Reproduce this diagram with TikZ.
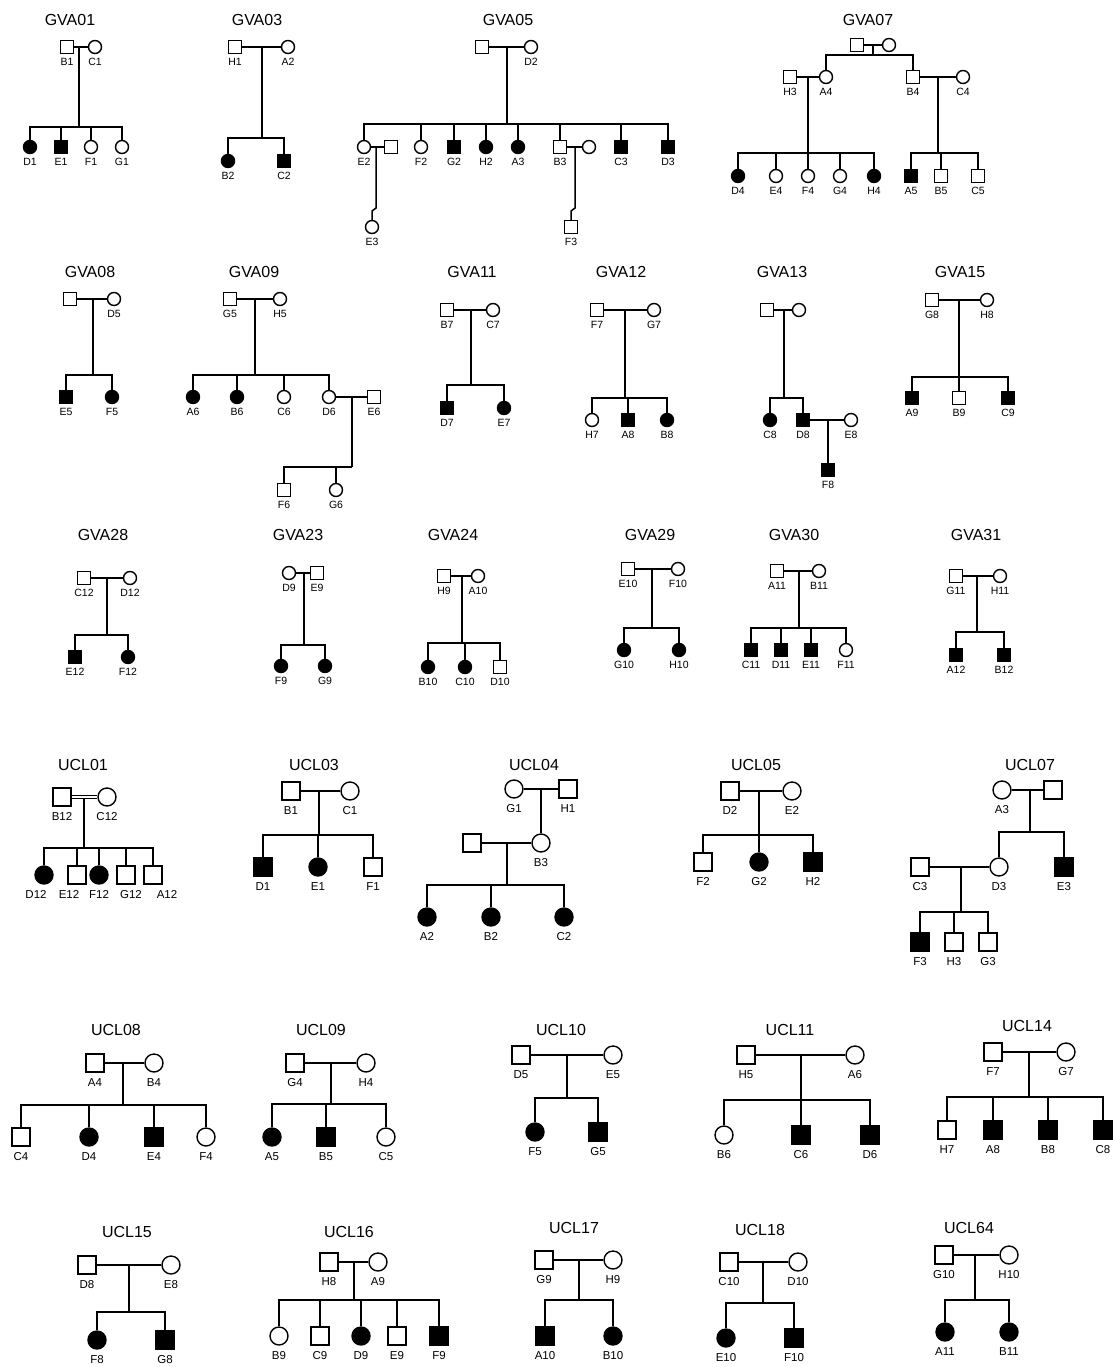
\documentclass[tikz,border=0pt]{standalone}
\usepackage{fontspec}
\setmainfont{Liberation Sans}
\tikzset{
  sym/.style={draw, line width=1.4pt, inner sep=0pt, minimum size=13pt},
  ma/.style={sym, rectangle},
  fe/.style={sym, circle},
  maA/.style={ma, fill=black},
  feA/.style={fe, fill=black},
  every label/.style={font=\fontsize{10.5}{12}\selectfont, inner sep=0pt},
  label distance=4pt,
  ttl/.style={font=\fontsize{16}{19}\selectfont, inner sep=0pt},
  lk/.style={line width=1.5pt},
}
\begin{document}
\begin{tikzpicture}[x=1pt,y=-1pt]
\useasboundingbox (0,0) rectangle (1112,1367);
\fill[white] (0,0) rectangle (1112,1367);

% ---------------- GVA01
\node[ttl] (G01t) at (70,20) {GVA01};
\node[ma,label=below:B1] (G01B1) at (67,47) {};
\node[fe,label=below:C1] (G01C1) at (95,47) {};
\coordinate (G01c) at (79,47); \coordinate (G01s) at (79,127);
\node[feA,label=below:D1] (G01D1) at (30,147) {};
\node[maA,label=below:E1] (G01E1) at (61,147) {};
\node[fe,label=below:F1] (G01F1) at (91,147) {};
\node[fe,label=below:G1] (G01G1) at (122,147) {};
\draw[lk] (G01B1) -- (G01C1) (G01c) -- (G01s);
\foreach \k in {D1,E1,F1,G1} \draw[lk] (G01\k) |- (G01s);

% ---------------- GVA03
\node[ttl] (G03t) at (257,20) {GVA03};
\node[ma,label=below:H1] (G03H1) at (235,47) {};
\node[fe,label=below:A2] (G03A2) at (288,47) {};
\coordinate (G03c) at (262,47); \coordinate (G03s) at (262,138);
\node[feA,label=below:B2] (G03B2) at (228,161) {};
\node[maA,label=below:C2] (G03C2) at (284,161) {};
\draw[lk] (G03H1) -- (G03A2) (G03c) -- (G03s);
\foreach \k in {B2,C2} \draw[lk] (G03\k) |- (G03s);

% ---------------- GVA05
\node[ttl] (G05t) at (508,20) {GVA05};
\node[ma] (G05F) at (482,47) {};
\node[fe,label=below:D2] (G05D2) at (531,47) {};
\coordinate (G05c) at (507,47); \coordinate (G05s) at (507,124);
\node[fe,label=below:E2] (G05E2) at (364,147) {};
\node[ma] (G05E2s) at (391,147) {};
\node[fe,label=below:F2] (G05F2) at (421,147) {};
\node[maA,label=below:G2] (G05G2) at (454,147) {};
\node[feA,label=below:H2] (G05H2) at (486,147) {};
\node[feA,label=below:A3] (G05A3) at (518,147) {};
\node[ma,label=below:B3] (G05B3) at (560,147) {};
\node[fe] (G05B3s) at (589,147) {};
\node[maA,label=below:C3] (G05C3) at (621,147) {};
\node[maA,label=below:D3] (G05D3) at (668,147) {};
\node[fe,label=below:E3] (G05E3) at (372,227) {};
\node[ma,label=below:F3] (G05F3) at (571,227) {};
\draw[lk] (G05F) -- (G05D2) (G05c) -- (G05s);
\foreach \k in {E2,F2,G2,H2,A3,B3,C3,D3} \draw[lk] (G05\k) |- (G05s);
\draw[lk] (G05E2) -- (G05E2s) (G05B3) -- (G05B3s);
\coordinate (G05k1) at (376,147); \coordinate (G05j1) at (376,208); \coordinate (G05j2) at (372,211);
\coordinate (G05k2) at (575,147); \coordinate (G05j3) at (575,208); \coordinate (G05j4) at (571,211);
\draw[lk] (G05k1) -- (G05j1) -- (G05j2) -- (G05E3);
\draw[lk] (G05k2) -- (G05j3) -- (G05j4) -- (G05F3);

% ---------------- GVA07
\node[ttl] (G07t) at (868,20) {GVA07};
\node[ma] (G07GF) at (857,45) {};
\node[fe] (G07GM) at (889,45) {};
\coordinate (G07c) at (873,45); \coordinate (G07s) at (873,55);
\node[ma,label=below:H3] (G07H3) at (790,77) {};
\node[fe,label=below:A4] (G07A4) at (826,77) {};
\node[ma,label=below:B4] (G07B4) at (913,77) {};
\node[fe,label=below:C4] (G07C4) at (963,77) {};
\draw[lk] (G07GF) -- (G07GM) (G07c) -- (G07s);
\foreach \k in {A4,B4} \draw[lk] (G07\k) |- (G07s);
\draw[lk] (G07H3) -- (G07A4) (G07B4) -- (G07C4);
\coordinate (G07c1) at (808,77); \coordinate (G07s1) at (808,153);
\coordinate (G07c2) at (938,77); \coordinate (G07s2) at (938,153);
\node[feA,label=below:D4] (G07D4) at (738,176) {};
\node[fe,label=below:E4] (G07E4) at (776,176) {};
\node[fe,label=below:F4] (G07F4) at (808,176) {};
\node[fe,label=below:G4] (G07G4) at (840,176) {};
\node[feA,label=below:H4] (G07H4) at (874,176) {};
\node[maA,label=below:A5] (G07A5) at (911,176) {};
\node[ma,label=below:B5] (G07B5) at (941,176) {};
\node[ma,label=below:C5] (G07C5) at (978,176) {};
\draw[lk] (G07c1) -- (G07s1) (G07c2) -- (G07s2);
\foreach \k in {D4,E4,F4,G4,H4} \draw[lk] (G07\k) |- (G07s1);
\foreach \k in {A5,B5,C5} \draw[lk] (G07\k) |- (G07s2);

% ---------------- GVA08
\node[ttl] (G08t) at (90,272) {GVA08};
\node[ma] (G08F) at (70,299) {};
\node[fe,label=below:D5] (G08D5) at (114,299) {};
\coordinate (G08c) at (93,299); \coordinate (G08s) at (93,375);
\node[maA,label=below:E5] (G08E5) at (66,397) {};
\node[feA,label=below:F5] (G08F5) at (112,397) {};
\draw[lk] (G08F) -- (G08D5) (G08c) -- (G08s);
\foreach \k in {E5,F5} \draw[lk] (G08\k) |- (G08s);

% ---------------- GVA09
\node[ttl] (G09t) at (254,272) {GVA09};
\node[ma,label=below:G5] (G09G5) at (230,299) {};
\node[fe,label=below:H5] (G09H5) at (280,299) {};
\coordinate (G09c) at (255,299); \coordinate (G09s) at (255,375);
\node[feA,label=below:A6] (G09A6) at (193,397) {};
\node[feA,label=below:B6] (G09B6) at (237,397) {};
\node[fe,label=below:C6] (G09C6) at (284,397) {};
\node[fe,label=below:D6] (G09D6) at (329,397) {};
\node[ma,label=below:E6] (G09E6) at (374,397) {};
\coordinate (G09c2) at (352,397); \coordinate (G09s2) at (352,467);
\node[ma,label=below:F6] (G09F6) at (284,490) {};
\node[fe,label=below:G6] (G09G6) at (336,490) {};
\draw[lk] (G09G5) -- (G09H5) (G09c) -- (G09s);
\foreach \k in {A6,B6,C6,D6} \draw[lk] (G09\k) |- (G09s);
\draw[lk] (G09D6) -- (G09E6) (G09c2) -- (G09s2);
\foreach \k in {F6,G6} \draw[lk] (G09\k) |- (G09s2);

% ---------------- GVA11
\node[ttl] (G11t) at (472,272) {GVA11};
\node[ma,label=below:B7] (G11B7) at (447,310) {};
\node[fe,label=below:C7] (G11C7) at (493,310) {};
\coordinate (G11c) at (471,310); \coordinate (G11s) at (471,385);
\node[maA,label=below:D7] (G11D7) at (447,408) {};
\node[feA,label=below:E7] (G11E7) at (504,408) {};
\draw[lk] (G11B7) -- (G11C7) (G11c) -- (G11s);
\foreach \k in {D7,E7} \draw[lk] (G11\k) |- (G11s);

% ---------------- GVA12
\node[ttl] (G12t) at (621,272) {GVA12};
\node[ma,label=below:F7] (G12F7) at (597,310) {};
\node[fe,label=below:G7] (G12G7) at (654,310) {};
\coordinate (G12c) at (625,310); \coordinate (G12s) at (625,398);
\node[fe,label=below:H7] (G12H7) at (592,420) {};
\node[maA,label=below:A8] (G12A8) at (628,420) {};
\node[feA,label=below:B8] (G12B8) at (667,420) {};
\draw[lk] (G12F7) -- (G12G7) (G12c) -- (G12s);
\foreach \k in {H7,A8,B8} \draw[lk] (G12\k) |- (G12s);

% ---------------- GVA13
\node[ttl] (G13t) at (782,272) {GVA13};
\node[ma] (G13F) at (767,310) {};
\node[fe] (G13M) at (799,310) {};
\coordinate (G13c) at (784,310); \coordinate (G13s) at (784,398);
\node[feA,label=below:C8] (G13C8) at (770,420) {};
\node[maA,label=below:D8] (G13D8) at (803,420) {};
\node[fe,label=below:E8] (G13E8) at (851,420) {};
\coordinate (G13c2) at (828,420);
\node[maA,label=below:F8] (G13F8) at (828,470) {};
\draw[lk] (G13F) -- (G13M) (G13c) -- (G13s);
\foreach \k in {C8,D8} \draw[lk] (G13\k) |- (G13s);
\draw[lk] (G13D8) -- (G13E8) (G13c2) -- (G13F8);

% ---------------- GVA15
\node[ttl] (G15t) at (960,272) {GVA15};
\node[ma,label=below:G8] (G15G8) at (932,300) {};
\node[fe,label=below:H8] (G15H8) at (987,300) {};
\coordinate (G15c) at (959,300); \coordinate (G15s) at (959,377);
\node[maA,label=below:A9] (G15A9) at (912,398) {};
\node[ma,label=below:B9] (G15B9) at (959,398) {};
\node[maA,label=below:C9] (G15C9) at (1008,398) {};
\draw[lk] (G15G8) -- (G15H8) (G15c) -- (G15s);
\foreach \k in {A9,B9,C9} \draw[lk] (G15\k) |- (G15s);

% ---------------- GVA28
\node[ttl] (G28t) at (103,535) {GVA28};
\node[ma,label=below:C12] (G28C12) at (84,578) {};
\node[fe,label=below:D12] (G28D12) at (130,578) {};
\coordinate (G28c) at (107,578); \coordinate (G28s) at (107,635);
\node[maA,label=below:E12] (G28E12) at (75,657) {};
\node[feA,label=below:F12] (G28F12) at (128,657) {};
\draw[lk] (G28C12) -- (G28D12) (G28c) -- (G28s);
\foreach \k in {E12,F12} \draw[lk] (G28\k) |- (G28s);

% ---------------- GVA23
\node[ttl] (G23t) at (298,535) {GVA23};
\node[fe,label=below:D9] (G23D9) at (289,573) {};
\node[ma,label=below:E9] (G23E9) at (317,573) {};
\coordinate (G23c) at (304,573); \coordinate (G23s) at (304,645);
\node[feA,label=below:F9] (G23F9) at (281,666) {};
\node[feA,label=below:G9] (G23G9) at (325,666) {};
\draw[lk] (G23D9) -- (G23E9) (G23c) -- (G23s);
\foreach \k in {F9,G9} \draw[lk] (G23\k) |- (G23s);

% ---------------- GVA24
\node[ttl] (G24t) at (453,535) {GVA24};
\node[ma,label=below:H9] (G24H9) at (444,576) {};
\node[fe,label=below:A10] (G24A10) at (478,576) {};
\coordinate (G24c) at (462,576); \coordinate (G24s) at (462,643);
\node[feA,label=below:B10] (G24B10) at (428,667) {};
\node[feA,label=below:C10] (G24C10) at (465,667) {};
\node[ma,label=below:D10] (G24D10) at (500,667) {};
\draw[lk] (G24H9) -- (G24A10) (G24c) -- (G24s);
\foreach \k in {B10,C10,D10} \draw[lk] (G24\k) |- (G24s);

% ---------------- GVA29
\node[ttl] (G29t) at (650,535) {GVA29};
\node[ma,label=below:E10] (G29E10) at (628,569) {};
\node[fe,label=below:F10] (G29F10) at (678,569) {};
\coordinate (G29c) at (652,569); \coordinate (G29s) at (652,628);
\node[feA,label=below:G10] (G29G10) at (624,650) {};
\node[feA,label=below:H10] (G29H10) at (679,650) {};
\draw[lk] (G29E10) -- (G29F10) (G29c) -- (G29s);
\foreach \k in {G10,H10} \draw[lk] (G29\k) |- (G29s);

% ---------------- GVA30
\node[ttl] (G30t) at (794,535) {GVA30};
\node[ma,label=below:A11] (G30A11) at (777,571) {};
\node[fe,label=below:B11] (G30B11) at (819,571) {};
\coordinate (G30c) at (799,571); \coordinate (G30s) at (799,628);
\node[maA,label=below:C11] (G30C11) at (751,650) {};
\node[maA,label=below:D11] (G30D11) at (781,650) {};
\node[maA,label=below:E11] (G30E11) at (811,650) {};
\node[fe,label=below:F11] (G30F11) at (846,650) {};
\draw[lk] (G30A11) -- (G30B11) (G30c) -- (G30s);
\foreach \k in {C11,D11,E11,F11} \draw[lk] (G30\k) |- (G30s);

% ---------------- GVA31
\node[ttl] (G31t) at (976,535) {GVA31};
\node[ma,label=below:G11] (G31G11) at (956,576) {};
\node[fe,label=below:H11] (G31H11) at (1000,576) {};
\coordinate (G31c) at (977,576); \coordinate (G31s) at (977,632);
\node[maA,label=below:A12] (G31A12) at (956,655) {};
\node[maA,label=below:B12] (G31B12) at (1004,655) {};
\draw[lk] (G31G11) -- (G31H11) (G31c) -- (G31s);
\foreach \k in {A12,B12} \draw[lk] (G31\k) |- (G31s);

% ================= UCL (larger symbols)
\begin{scope}[sym/.append style={minimum size=18pt},
  every label/.append style={font=\fontsize{11.5}{13}\selectfont},
  label distance=6pt]

% ---------------- UCL01
\node[ttl] (U01t) at (83,765) {UCL01};
\node[ma,label=below:B12] (U01B12) at (62,797) {};
\node[fe,label=below:C12] (U01C12) at (107,797) {};
\draw[line width=1.1pt, double, double distance=1.8pt] (U01B12) -- (U01C12);
\coordinate (U01c) at (84,799); \coordinate (U01s) at (84,848);
\node[feA,label={[xshift=-8pt]below:D12}] (U01D12) at (44,875) {};
\node[ma,label={[xshift=-8pt]below:E12}] (U01E12) at (77,875) {};
\node[feA,label=below:F12] (U01F12) at (99,875) {};
\node[ma,label={[xshift=5pt]below:G12}] (U01G12) at (126,875) {};
\node[ma,label={[xshift=14pt]below:A12}] (U01A12) at (153,875) {};
\draw[lk] (U01c) -- (U01s);
\foreach \k in {D12,E12,F12,G12,A12} \draw[lk] (U01\k) |- (U01s);

% ---------------- UCL03
\node[ttl] (U03t) at (314,765) {UCL03};
\node[ma,label=below:B1] (U03B1) at (291,791) {};
\node[fe,label=below:C1] (U03C1) at (350,791) {};
\coordinate (U03c) at (319,791); \coordinate (U03s) at (319,835);
\node[maA,label=below:D1] (U03D1) at (263,867) {};
\node[feA,label=below:E1] (U03E1) at (318,867) {};
\node[ma,label=below:F1] (U03F1) at (373,867) {};
\draw[lk] (U03B1) -- (U03C1) (U03c) -- (U03s);
\foreach \k in {D1,E1,F1} \draw[lk] (U03\k) |- (U03s);

% ---------------- UCL04
\node[ttl] (U04t) at (534,765) {UCL04};
\node[fe,label=below:G1] (U04G1) at (514,789) {};
\node[ma,label=below:H1] (U04H1) at (568,789) {};
\coordinate (U04c) at (541,789);
\node[fe,label=below:B3] (U04B3) at (541,843) {};
\node[ma] (U04S) at (472,843) {};
\coordinate (U04c2) at (507,843); \coordinate (U04s2) at (507,885);
\node[feA,label=below:A2] (U04A2) at (427,917) {};
\node[feA,label=below:B2] (U04B2) at (491,917) {};
\node[feA,label=below:C2] (U04C2) at (564,917) {};
\draw[lk] (U04G1) -- (U04H1) (U04c) -- (U04B3);
\draw[lk] (U04S) -- (U04B3) (U04c2) -- (U04s2);
\foreach \k in {A2,B2,C2} \draw[lk] (U04\k) |- (U04s2);

% ---------------- UCL05
\node[ttl] (U05t) at (756,765) {UCL05};
\node[ma,label=below:D2] (U05D2) at (730,791) {};
\node[fe,label=below:E2] (U05E2) at (792,791) {};
\coordinate (U05c) at (759,791); \coordinate (U05s) at (759,835);
\node[ma,label=below:F2] (U05F2) at (703,862) {};
\node[feA,label=below:G2] (U05G2) at (759,862) {};
\node[maA,label=below:H2] (U05H2) at (813,862) {};
\draw[lk] (U05D2) -- (U05E2) (U05c) -- (U05s);
\foreach \k in {F2,G2,H2} \draw[lk] (U05\k) |- (U05s);

% ---------------- UCL07
\node[ttl] (U07t) at (1030,765) {UCL07};
\node[fe,label=below:A3] (U07A3) at (1002,790) {};
\node[ma] (U07M) at (1053,790) {};
\coordinate (U07c) at (1030,790); \coordinate (U07s) at (1030,832);
\node[fe,label=below:D3] (U07D3) at (999,867) {};
\node[maA,label=below:E3] (U07E3) at (1064,867) {};
\node[ma,label=below:C3] (U07C3) at (920,867) {};
\coordinate (U07c2) at (961,867); \coordinate (U07s2) at (961,912);
\node[maA,label=below:F3] (U07F3) at (920,942) {};
\node[ma,label=below:H3] (U07H3) at (954,942) {};
\node[ma,label=below:G3] (U07G3) at (988,942) {};
\draw[lk] (U07A3) -- (U07M) (U07c) -- (U07s);
\foreach \k in {D3,E3} \draw[lk] (U07\k) |- (U07s);
\draw[lk] (U07C3) -- (U07D3) (U07c2) -- (U07s2);
\foreach \k in {F3,H3,G3} \draw[lk] (U07\k) |- (U07s2);

% ---------------- UCL08
\node[ttl] (U08t) at (116,1030) {UCL08};
\node[ma,label=below:A4] (U08A4) at (95,1063) {};
\node[fe,label=below:B4] (U08B4) at (154,1063) {};
\coordinate (U08c) at (123,1063); \coordinate (U08s) at (123,1105);
\node[ma,label=below:C4] (U08C4) at (21,1137) {};
\node[feA,label=below:D4] (U08D4) at (89,1137) {};
\node[maA,label=below:E4] (U08E4) at (154,1137) {};
\node[fe,label=below:F4] (U08F4) at (206,1137) {};
\draw[lk] (U08A4) -- (U08B4) (U08c) -- (U08s);
\foreach \k in {C4,D4,E4,F4} \draw[lk] (U08\k) |- (U08s);

% ---------------- UCL09
\node[ttl] (U09t) at (321,1030) {UCL09};
\node[ma,label=below:G4] (U09G4) at (295,1063) {};
\node[fe,label=below:H4] (U09H4) at (366,1063) {};
\coordinate (U09c) at (331,1063); \coordinate (U09s) at (331,1104);
\node[feA,label=below:A5] (U09A5) at (272,1137) {};
\node[maA,label=below:B5] (U09B5) at (326,1137) {};
\node[fe,label=below:C5] (U09C5) at (386,1137) {};
\draw[lk] (U09G4) -- (U09H4) (U09c) -- (U09s);
\foreach \k in {A5,B5,C5} \draw[lk] (U09\k) |- (U09s);

% ---------------- UCL10
\node[ttl] (U10t) at (561,1030) {UCL10};
\node[ma,label=below:D5] (U10D5) at (521,1055) {};
\node[fe,label=below:E5] (U10E5) at (613,1055) {};
\coordinate (U10c) at (567,1055); \coordinate (U10s) at (567,1098);
\node[feA,label=below:F5] (U10F5) at (535,1132) {};
\node[maA,label=below:G5] (U10G5) at (598,1132) {};
\draw[lk] (U10D5) -- (U10E5) (U10c) -- (U10s);
\foreach \k in {F5,G5} \draw[lk] (U10\k) |- (U10s);

% ---------------- UCL11
\node[ttl] (U11t) at (790,1030) {UCL11};
\node[ma,label=below:H5] (U11H5) at (746,1055) {};
\node[fe,label=below:A6] (U11A6) at (855,1055) {};
\coordinate (U11c) at (801,1055); \coordinate (U11s) at (801,1100);
\node[fe,label=below:B6] (U11B6) at (724,1135) {};
\node[maA,label=below:C6] (U11C6) at (801,1135) {};
\node[maA,label=below:D6] (U11D6) at (870,1135) {};
\draw[lk] (U11H5) -- (U11A6) (U11c) -- (U11s);
\foreach \k in {B6,C6,D6} \draw[lk] (U11\k) |- (U11s);

% ---------------- UCL14
\node[ttl] (U14t) at (1027,1026) {UCL14};
\node[ma,label=below:F7] (U14F7) at (993,1052) {};
\node[fe,label=below:G7] (U14G7) at (1066,1052) {};
\coordinate (U14c) at (1029,1052); \coordinate (U14s) at (1029,1097);
\node[ma,label=below:H7] (U14H7) at (947,1130) {};
\node[maA,label=below:A8] (U14A8) at (993,1130) {};
\node[maA,label=below:B8] (U14B8) at (1048,1130) {};
\node[maA,label=below:C8] (U14C8) at (1103,1130) {};
\draw[lk] (U14F7) -- (U14G7) (U14c) -- (U14s);
\foreach \k in {H7,A8,B8,C8} \draw[lk] (U14\k) |- (U14s);

% ---------------- UCL15
\node[ttl] (U15t) at (127,1232) {UCL15};
\node[ma,label=below:D8] (U15D8) at (87,1265) {};
\node[fe,label=below:E8] (U15E8) at (171,1265) {};
\coordinate (U15c) at (129,1265); \coordinate (U15s) at (129,1312);
\node[feA,label=below:F8] (U15F8) at (97,1340) {};
\node[maA,label=below:G8] (U15G8) at (165,1340) {};
\draw[lk] (U15D8) -- (U15E8) (U15c) -- (U15s);
\foreach \k in {F8,G8} \draw[lk] (U15\k) |- (U15s);

% ---------------- UCL16
\node[ttl] (U16t) at (349,1232) {UCL16};
\node[ma,label=below:H8] (U16H8) at (329,1262) {};
\node[fe,label=below:A9] (U16A9) at (378,1262) {};
\coordinate (U16c) at (354,1262); \coordinate (U16s) at (354,1300);
\node[fe,label=below:B9] (U16B9) at (279,1336) {};
\node[ma,label=below:C9] (U16C9) at (320,1336) {};
\node[feA,label=below:D9] (U16D9) at (361,1336) {};
\node[ma,label=below:E9] (U16E9) at (397,1336) {};
\node[maA,label=below:F9] (U16F9) at (439,1336) {};
\draw[lk] (U16H8) -- (U16A9) (U16c) -- (U16s);
\foreach \k in {B9,C9,D9,E9,F9} \draw[lk] (U16\k) |- (U16s);

% ---------------- UCL17
\node[ttl] (U17t) at (574,1228) {UCL17};
\node[ma,label=below:G9] (U17G9) at (544,1260) {};
\node[fe,label=below:H9] (U17H9) at (613,1260) {};
\coordinate (U17c) at (579,1260); \coordinate (U17s) at (579,1300);
\node[maA,label=below:A10] (U17A10) at (545,1336) {};
\node[feA,label=below:B10] (U17B10) at (613,1336) {};
\draw[lk] (U17G9) -- (U17H9) (U17c) -- (U17s);
\foreach \k in {A10,B10} \draw[lk] (U17\k) |- (U17s);

% ---------------- UCL18
\node[ttl] (U18t) at (760,1230) {UCL18};
\node[ma,label=below:C10] (U18C10) at (729,1262) {};
\node[fe,label=below:D10] (U18D10) at (798,1262) {};
\coordinate (U18c) at (763,1262); \coordinate (U18s) at (763,1303);
\node[feA,label=below:E10] (U18E10) at (726,1338) {};
\node[maA,label=below:F10] (U18F10) at (794,1338) {};
\draw[lk] (U18C10) -- (U18D10) (U18c) -- (U18s);
\foreach \k in {E10,F10} \draw[lk] (U18\k) |- (U18s);

% ---------------- UCL64
\node[ttl] (U64t) at (969,1228) {UCL64};
\node[ma,label=below:G10] (U64G10) at (944,1255) {};
\node[fe,label=below:H10] (U64H10) at (1009,1255) {};
\coordinate (U64c) at (975,1255); \coordinate (U64s) at (975,1300);
\node[feA,label=below:A11] (U64A11) at (945,1332) {};
\node[feA,label=below:B11] (U64B11) at (1009,1332) {};
\draw[lk] (U64G10) -- (U64H10) (U64c) -- (U64s);
\foreach \k in {A11,B11} \draw[lk] (U64\k) |- (U64s);
\end{scope}
\end{tikzpicture}
\end{document}
